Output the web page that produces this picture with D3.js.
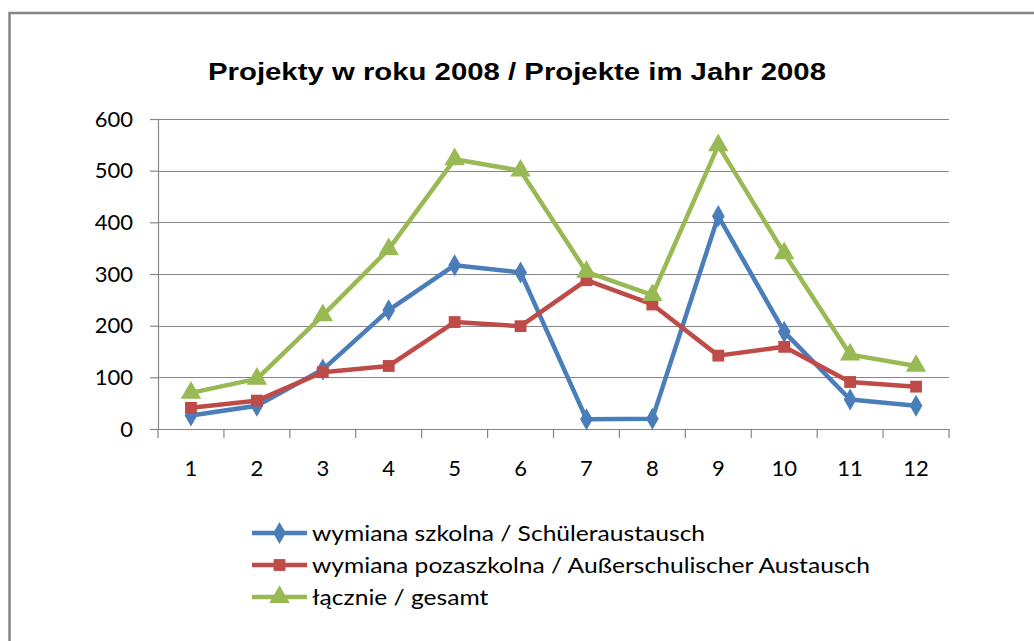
<!DOCTYPE html>
<html>
<head>
<meta charset="utf-8">
<script src="https://cdn.jsdelivr.net/npm/d3@7"></script>
<style>
  body { margin: 0; background: #fff; }
  svg { display: block; }
</style>
</head>
<body>
<svg id="chart" width="1034" height="641"></svg>
<script>
// dane
const miesiace = ["1", "2", "3", "4", "5", "6", "7", "8", "9", "10", "11", "12"];
const szkolna = [26, 45, 115, 230, 317, 303, 19, 20, 412, 188, 57, 45];
const pozaszkolna = [41, 55, 110, 122, 207, 199, 288, 241, 142, 159, 91, 82];
const lacznie = [70, 97, 220, 348, 522, 500, 304, 259, 549, 340, 144, 122];
const yTicks = [0, 100, 200, 300, 400, 500, 600];

const serie = [
  { nazwa: "wymiana szkolna / Schüleraustausch", wartosci: szkolna, kolor: "#4a7ebb", znak: "diamond" },
  { nazwa: "wymiana pozaszkolna / Außerschulischer Austausch", wartosci: pozaszkolna, kolor: "#be4b48", znak: "square" },
  { nazwa: "łącznie / gesamt", wartosci: lacznie, kolor: "#98b954", znak: "triangle" }
];

const svg = d3.select("#chart");
const grey = "#868686";
const font = "Lato, 'Open Sans', sans-serif";

// ramka
svg.append("rect")
  .attr("x", 9.5).attr("y", 13)
  .attr("width", 1040).attr("height", 640)
  .attr("fill", "none")
  .attr("stroke", grey)
  .attr("stroke-width", 2.5);

const margin = { top: 119, left: 158, right: 85, bottom: 212 },
      width = 1034 - margin.left - margin.right,
      height = 641 - margin.top - margin.bottom;

const g = svg.append("g").attr("transform", `translate(${margin.left},${margin.top})`);

const x = d3.scaleBand().domain(miesiace).range([0, width]);
const y = d3.scaleLinear().domain([0, 600]).range([height, 0]);

// linie siatki
g.append("g")
  .selectAll("line")
  .data(yTicks)
  .enter().append("line")
    .attr("x1", 0).attr("x2", width)
    .attr("y1", d => Math.round(y(d)) + 0.5)
    .attr("y2", d => Math.round(y(d)) + 0.5)
    .attr("stroke", grey)
    .attr("stroke-width", 1.2);

// oś Y
const axY = g.append("g")
  .call(d3.axisLeft(y).tickValues(yTicks).tickSize(8).tickPadding(17));
axY.selectAll("line, path").attr("stroke", grey).attr("stroke-width", 1.2);
axY.selectAll("text")
  .style("font-family", font)
  .style("font-size", "22px")
  .attr("fill", "#000");

// oś X
const axX = g.append("g")
  .attr("transform", `translate(0,${height})`)
  .call(d3.axisBottom(x).tickSize(0).tickPadding(31));
axX.select("path").attr("stroke", grey).attr("stroke-width", 1.2);
axX.selectAll("text")
  .style("font-family", font)
  .style("font-size", "22px")
  .attr("fill", "#000");

// kreski podziału na osi X
g.append("g")
  .selectAll("line")
  .data(miesiace.concat(["end"]))
  .enter().append("line")
    .attr("x1", (d, i) => i * x.step())
    .attr("x2", (d, i) => i * x.step())
    .attr("y1", height).attr("y2", height + 9)
    .attr("stroke", grey)
    .attr("stroke-width", 1.2);

const symbole = {
  diamond: d3.symbol().type(d3.symbolDiamond).size(140),
  square: d3.symbol().type(d3.symbolSquare).size(140),
  triangle: d3.symbol().type(d3.symbolTriangle).size(180)
};

const linia = d3.line()
  .x((d, i) => x(miesiace[i]) + x.bandwidth() / 2)
  .y(d => y(d));

// serie
serie.forEach(s => {
  g.append("path")
    .datum(s.wartosci)
    .attr("fill", "none")
    .attr("stroke", s.kolor)
    .attr("stroke-width", 4.5)
    .attr("stroke-linejoin", "round")
    .attr("d", linia);

  g.selectAll(null)
    .data(s.wartosci)
    .enter().append("path")
      .attr("d", symbole[s.znak])
      .attr("transform", (d, i) => `translate(${x(miesiace[i]) + x.bandwidth() / 2},${y(d)})`)
      .attr("fill", s.kolor);
});

// legenda
const leg = svg.append("g").attr("transform", "translate(252,533)");
const teksty = [];
serie.forEach((s, i) => {
  const row = leg.append("g").attr("transform", `translate(0,${i * 32})`);
  row.append("line")
    .attr("x1", 0).attr("x2", 55)
    .attr("stroke", s.kolor)
    .attr("stroke-width", 4.5);
  row.append("path")
    .attr("d", symbole[s.znak])
    .attr("transform", "translate(27.5,0)")
    .attr("fill", s.kolor);
  teksty.push(row.append("text")
    .attr("x", 60)
    .attr("dy", "0.35em")
    .style("font-family", font)
    .style("font-size", "22px")
    .text(s.nazwa));
});
// rozciągnięcie tekstu legendy jak w oryginale (najdłuższy wiersz ~558px)
const skala = 558 / teksty[1].node().getComputedTextLength();
teksty.forEach(t => {
  t.attr("textLength", t.node().getComputedTextLength() * skala)
   .attr("lengthAdjust", "spacingAndGlyphs");
});

// tytuł
svg.append("text")
  .attr("x", 517)
  .attr("y", 80)
  .attr("text-anchor", "middle")
  .attr("textLength", 618)
  .attr("lengthAdjust", "spacingAndGlyphs")
  .style("font-family", "'Liberation Sans', Arial, sans-serif")
  .style("font-size", "24px")
  .style("font-weight", "bold")
  .text("Projekty w roku 2008 / Projekte im Jahr 2008");
</script>
</body>
</html>
